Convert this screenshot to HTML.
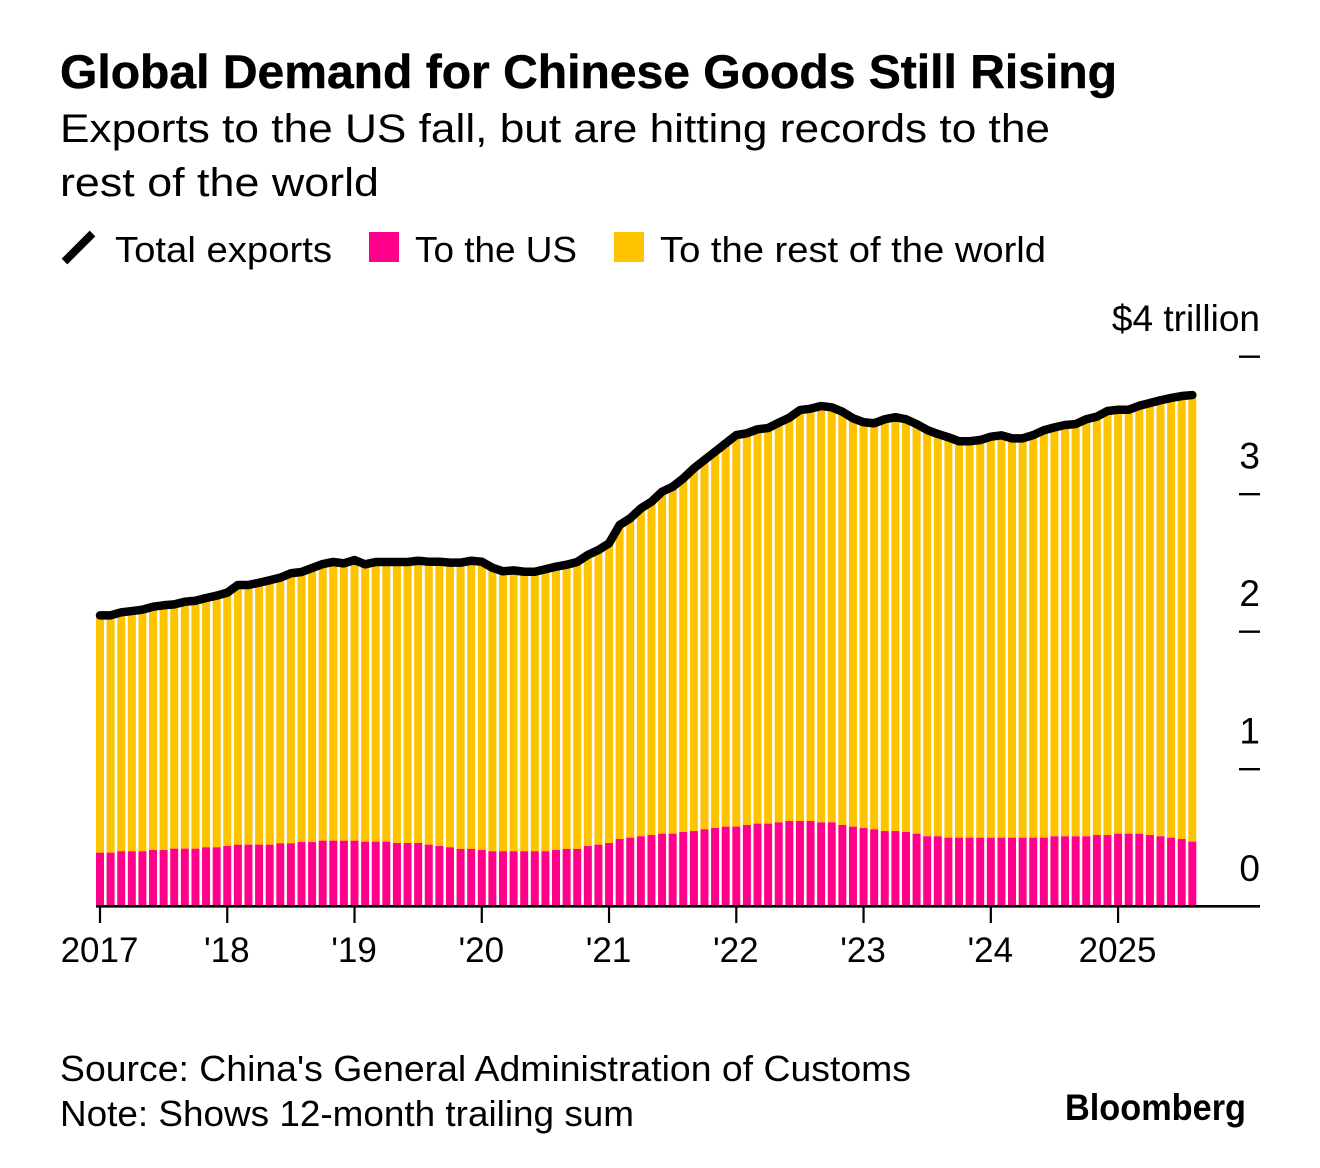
<!DOCTYPE html>
<html lang="en">
<head>
<meta charset="utf-8">
<title>Global Demand for Chinese Goods Still Rising</title>
<style>
  html, body { margin: 0; padding: 0; background: #fff; }
  body { width: 1320px; height: 1168px; overflow: hidden; }
  svg { display: block; }
  text { font-family: "Liberation Sans", Arial, sans-serif; fill: #000; }
</style>
</head>
<body>
<svg id="chart" xmlns="http://www.w3.org/2000/svg" width="1320" height="1168" viewBox="0 0 1320 1168">
  <text x="60" y="88" font-size="47" font-weight="700" stroke="#000" stroke-width="0.5" textLength="1057" lengthAdjust="spacingAndGlyphs">Global Demand for Chinese Goods Still Rising</text>
  <text x="60" y="142" font-size="40" textLength="990" lengthAdjust="spacingAndGlyphs">Exports to the US fall, but are hitting records to the</text>
  <text x="60" y="196" font-size="40" textLength="319" lengthAdjust="spacingAndGlyphs">rest of the world</text>

  <g>
    <line x1="64.5" y1="261.5" x2="92.5" y2="233.5" stroke="#000" stroke-width="8"/>
    <text x="115" y="262" font-size="36" textLength="217" lengthAdjust="spacingAndGlyphs">Total exports</text>
    <rect x="369" y="232" width="30" height="30" fill="#ff008a"/>
    <text x="415" y="262" font-size="36" textLength="162" lengthAdjust="spacingAndGlyphs">To the US</text>
    <rect x="614" y="232" width="30" height="30" fill="#ffc400"/>
    <text x="660" y="262" font-size="36" textLength="386" lengthAdjust="spacingAndGlyphs">To the rest of the world</text>
  </g>

  <g id="bars"></g>
  <g id="axes"></g>
  <path id="total-line" fill="none" stroke="#000" stroke-width="8.5" stroke-linejoin="round" stroke-linecap="round"/>

  <text x="60" y="1081" font-size="36" textLength="851" lengthAdjust="spacingAndGlyphs">Source: China's General Administration of Customs</text>
  <text x="60" y="1126" font-size="36" textLength="574" lengthAdjust="spacingAndGlyphs">Note: Shows 12-month trailing sum</text>
  <text x="1065" y="1120" font-size="37" font-weight="700" textLength="181" lengthAdjust="spacingAndGlyphs">Bloomberg</text>
</svg>

<script>
const categories = [
  '2017-01','2017-02','2017-03','2017-04','2017-05','2017-06','2017-07','2017-08','2017-09','2017-10','2017-11','2017-12',
  '2018-01','2018-02','2018-03','2018-04','2018-05','2018-06','2018-07','2018-08','2018-09','2018-10','2018-11','2018-12',
  '2019-01','2019-02','2019-03','2019-04','2019-05','2019-06','2019-07','2019-08','2019-09','2019-10','2019-11','2019-12',
  '2020-01','2020-02','2020-03','2020-04','2020-05','2020-06','2020-07','2020-08','2020-09','2020-10','2020-11','2020-12',
  '2021-01','2021-02','2021-03','2021-04','2021-05','2021-06','2021-07','2021-08','2021-09','2021-10','2021-11','2021-12',
  '2022-01','2022-02','2022-03','2022-04','2022-05','2022-06','2022-07','2022-08','2022-09','2022-10','2022-11','2022-12',
  '2023-01','2023-02','2023-03','2023-04','2023-05','2023-06','2023-07','2023-08','2023-09','2023-10','2023-11','2023-12',
  '2024-01','2024-02','2024-03','2024-04','2024-05','2024-06','2024-07','2024-08','2024-09','2024-10','2024-11','2024-12',
  '2025-01','2025-02','2025-03','2025-04','2025-05','2025-06','2025-07','2025-08'
];
const totalExports = [
  2.114,2.114,2.136,2.145,2.155,2.177,2.187,2.194,2.213,2.220,2.240,2.257,
  2.279,2.335,2.335,2.351,2.369,2.388,2.420,2.429,2.458,2.487,2.502,2.492,
  2.516,2.485,2.502,2.502,2.502,2.502,2.511,2.504,2.504,2.497,2.497,2.511,
  2.504,2.460,2.434,2.441,2.431,2.431,2.449,2.468,2.482,2.502,2.553,2.589,
  2.638,2.771,2.820,2.892,2.940,3.013,3.049,3.110,3.183,3.244,3.304,3.365,
  3.425,3.438,3.467,3.476,3.515,3.551,3.607,3.617,3.636,3.627,3.595,3.547,
  3.518,3.511,3.540,3.555,3.540,3.505,3.462,3.433,3.409,3.380,3.380,3.389,
  3.413,3.423,3.401,3.401,3.425,3.460,3.481,3.498,3.505,3.540,3.559,3.600,
  3.609,3.609,3.638,3.658,3.678,3.695,3.709,3.716
];
const usExports = [
  0.388,0.388,0.398,0.398,0.398,0.407,0.407,0.417,0.417,0.417,0.427,0.427,
  0.436,0.446,0.446,0.446,0.446,0.456,0.456,0.465,0.465,0.475,0.475,0.475,
  0.475,0.468,0.468,0.468,0.458,0.458,0.458,0.446,0.436,0.427,0.415,0.415,
  0.407,0.398,0.398,0.398,0.398,0.398,0.398,0.407,0.415,0.415,0.436,0.446,
  0.458,0.487,0.497,0.507,0.516,0.526,0.526,0.538,0.545,0.558,0.567,0.577,
  0.577,0.589,0.599,0.599,0.608,0.618,0.618,0.618,0.608,0.608,0.589,0.577,
  0.567,0.558,0.545,0.545,0.538,0.526,0.507,0.507,0.497,0.497,0.497,0.497,
  0.497,0.497,0.497,0.497,0.497,0.497,0.507,0.507,0.507,0.507,0.516,0.516,
  0.526,0.526,0.526,0.516,0.507,0.497,0.487,0.468
];
const restExports = [
  1.726,1.726,1.738,1.747,1.757,1.770,1.780,1.777,1.796,1.803,1.813,1.830,
  1.843,1.889,1.889,1.905,1.923,1.932,1.964,1.964,1.993,2.012,2.027,2.017,
  2.041,2.017,2.034,2.034,2.044,2.044,2.053,2.058,2.068,2.070,2.082,2.096,
  2.097,2.062,2.036,2.043,2.033,2.033,2.051,2.061,2.067,2.087,2.117,2.143,
  2.180,2.284,2.323,2.385,2.424,2.487,2.523,2.572,2.638,2.686,2.737,2.788,
  2.848,2.849,2.868,2.877,2.907,2.933,2.989,2.999,3.028,3.019,3.006,2.970,
  2.951,2.953,2.995,3.010,3.002,2.979,2.955,2.926,2.912,2.883,2.883,2.892,
  2.916,2.926,2.904,2.904,2.928,2.963,2.974,2.991,2.998,3.033,3.043,3.084,
  3.083,3.083,3.112,3.142,3.171,3.198,3.222,3.248
];
const xTickCategories = ['2017-01','2018-01','2019-01','2020-01','2021-01','2022-01','2023-01','2024-01','2025-01'];
const xTickLabels = ['2017',"'18","'19","'20","'21","'22","'23","'24",'2025'];
const yTickValues = [0,1,2,3,4];
const yTickLabels = ['0','1','2','3','$4 trillion'];

const SVG_NS = 'http://www.w3.org/2000/svg';
function xScale(index) { return 100 + 10.605 * index; }
function yScale(value) { return 906 - 137.5 * value; }
function xOfCategory(category) { return xScale(categories.indexOf(category)); }
const BAR_WIDTH = 8;
const Y_TICK_NUDGE = 0.7;

const barsGroup = document.getElementById('bars');
const axesGroup = document.getElementById('axes');

categories.forEach(function (category, i) {
  const x = xScale(i) - BAR_WIDTH / 2;
  const usTop = yScale(usExports[i]);
  const restTop = yScale(usExports[i] + restExports[i]);

  const restBar = document.createElementNS(SVG_NS, 'rect');
  restBar.setAttribute('x', x);
  restBar.setAttribute('y', restTop);
  restBar.setAttribute('width', BAR_WIDTH);
  restBar.setAttribute('height', usTop - restTop);
  restBar.setAttribute('fill', '#ffc400');
  
  
  barsGroup.appendChild(restBar);

  const usBar = document.createElementNS(SVG_NS, 'rect');
  usBar.setAttribute('x', x);
  usBar.setAttribute('y', usTop);
  usBar.setAttribute('width', BAR_WIDTH);
  usBar.setAttribute('height', yScale(0) - usTop);
  usBar.setAttribute('fill', '#ff008a');
  
  
  barsGroup.appendChild(usBar);
});

const baseline = document.createElementNS(SVG_NS, 'line');
baseline.setAttribute('x1', 96);
baseline.setAttribute('x2', 1260);
baseline.setAttribute('y1', yScale(0) + 0.3);
baseline.setAttribute('y2', yScale(0) + 0.3);
baseline.setAttribute('stroke', '#000');
baseline.setAttribute('stroke-width', 2.6);


axesGroup.appendChild(baseline);

xTickCategories.forEach(function (category, i) {
  const x = xOfCategory(category);

  const tick = document.createElementNS(SVG_NS, 'line');
  tick.setAttribute('x1', x);
  tick.setAttribute('x2', x);
  tick.setAttribute('y1', yScale(0));
  tick.setAttribute('y2', yScale(0) + 17);
  tick.setAttribute('stroke', '#000');
  tick.setAttribute('stroke-width', 2.2);
  
  
  axesGroup.appendChild(tick);

  const label = document.createElementNS(SVG_NS, 'text');
  label.setAttribute('x', x - 0.5);
  label.setAttribute('y', 962);
  label.setAttribute('font-size', 35);
  label.setAttribute('text-anchor', 'middle');
  
  
  label.textContent = xTickLabels[i];
  axesGroup.appendChild(label);
});

yTickValues.forEach(function (value, i) {
  const y = yScale(value) + Y_TICK_NUDGE;

  if (value !== 0) {
    const tick = document.createElementNS(SVG_NS, 'line');
    tick.setAttribute('x1', 1239);
    tick.setAttribute('x2', 1260);
    tick.setAttribute('y1', y);
    tick.setAttribute('y2', y);
    tick.setAttribute('stroke', '#000');
    tick.setAttribute('stroke-width', 2.4);
    
    
    axesGroup.appendChild(tick);
  }

  const label = document.createElementNS(SVG_NS, 'text');
  label.setAttribute('x', 1260);
  label.setAttribute('y', y - 25.5);
  label.setAttribute('font-size', 37);
  label.setAttribute('text-anchor', 'end');
  
  
  label.textContent = yTickLabels[i];
  axesGroup.appendChild(label);
});

const linePath = totalExports.map(function (value, i) {
  return (i === 0 ? 'M' : 'L') + xScale(i).toFixed(2) + ' ' + yScale(value).toFixed(2);
}).join(' ');
document.getElementById('total-line').setAttribute('d', linePath);
</script>
</body>
</html>
